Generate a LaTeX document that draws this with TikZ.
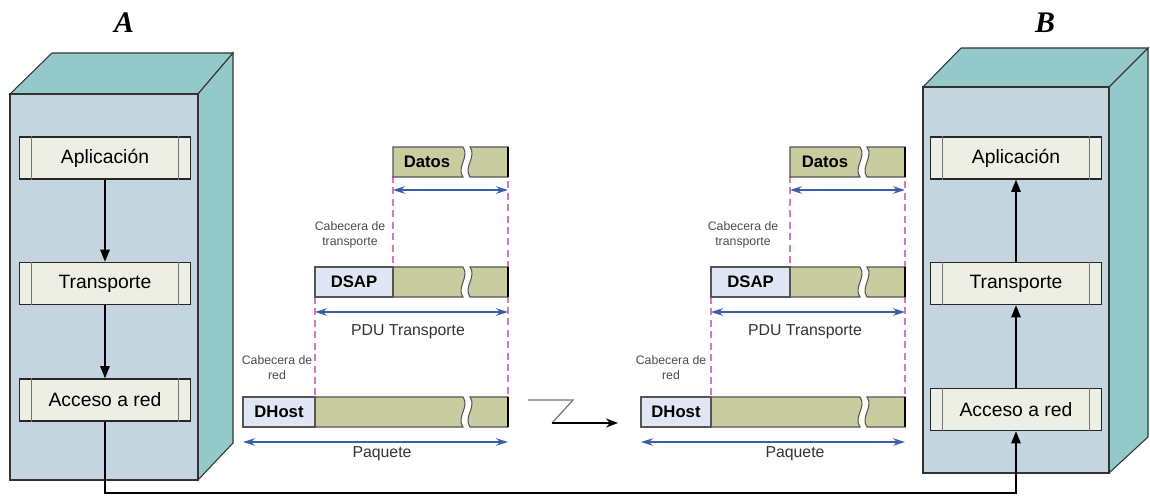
\documentclass[tikz,border=0pt]{standalone}
\usepackage{fontspec}
\setmainfont{Liberation Sans}
\newfontfamily\serifbi{Liberation Serif}
\usetikzlibrary{arrows.meta}
\definecolor{frontc}{RGB}{196,213,224}
\definecolor{sidec}{RGB}{147,201,201}
\definecolor{layerc}{RGB}{237,239,228}
\definecolor{pktgreen}{RGB}{200,204,158}
\definecolor{hdrblue}{RGB}{224,230,243}
\definecolor{pktline}{RGB}{85,85,85}
\definecolor{dimblue}{RGB}{58,95,168}
\definecolor{dashpink}{RGB}{214,120,186}
\newcommand{\pktbody}[4]{%
  \filldraw[fill=pktgreen, draw=pktline, line width=0.6pt] (#1,#4) -- (#2,#4) .. controls (#2+7,#4+10) and (#2-7,#4+20) .. (#2,#4+30) -- (#1,#4+30) -- cycle;
  \filldraw[fill=pktgreen, draw=pktline, line width=0.6pt] (#2+7,#4) -- (#3,#4) -- (#3,#4+30) -- (#2+7,#4+30) .. controls (#2,#4+20) and (#2+14,#4+10) .. (#2+7,#4) -- cycle;
  \draw[line width=1pt] (#3,#4) -- (#3,#4+30);
}

\begin{document}
\begin{tikzpicture}[x=0.2mm, y=-0.2mm,
  capa/.style={draw=black!85, line width=0.9pt, fill=layerc, minimum width=34.2mm, minimum height=8.4mm, font=\fontsize{11}{13}\selectfont},
  hdr/.style={draw=pktline, line width=0.6pt, fill=hdrblue, minimum height=6mm, font=\fontsize{9.5}{11}\selectfont\bfseries},
  flecha/.style={line width=0.6pt, -{Triangle[length=2.4mm, width=1.9mm]}},
  dim/.style={dimblue, line width=0.7pt, {Stealth[length=2.4mm, width=1.5mm]}-{Stealth[length=2.4mm, width=1.5mm]}},
  guia/.style={dashpink, line width=0.6pt, dash pattern=on 4pt off 2.5pt},
  small/.style={text=black!70, align=center, font=\fontsize{7}{8.5}\selectfont},
  lbl/.style={text=black!80, font=\fontsize{9}{11}\selectfont}]
\useasboundingbox (0,0) rectangle (1150,501);

% host A
\filldraw[fill=sidec, draw=black!80, line width=0.6pt] (10,94) -- (52,53) -- (233,53) -- (198,94) -- cycle;
\filldraw[fill=sidec, draw=black!80, line width=0.6pt] (198,94) -- (233,53) -- (233,443) -- (198,480) -- cycle;
\filldraw[fill=frontc, draw=black!80, line width=0.8pt] (10,94) rectangle (198,480);
\node[font=\serifbi\fontsize{17}{20}\selectfont\bfseries\itshape] (labA) at (124,23) {A};

% host B
\filldraw[fill=sidec, draw=black!80, line width=0.6pt] (923,87) -- (961,48) -- (1148,48) -- (1109,87) -- cycle;
\filldraw[fill=sidec, draw=black!80, line width=0.6pt] (1109,87) -- (1148,48) -- (1148,437) -- (1109,473) -- cycle;
\filldraw[fill=frontc, draw=black!80, line width=0.8pt] (923,87) rectangle (1109,473);
\node[font=\serifbi\fontsize{17}{20}\selectfont\bfseries\itshape] (labB) at (1045,23) {B};

% capas
\node[capa] (apA) at (105,158) {Aplicación};
\node[capa] (trA) at (105,283.5) {Transporte};
\node[capa] (acA) at (105,400) {Acceso a red};
\node[capa] (apB) at (1016,158) {Aplicación};
\node[capa] (trB) at (1016,283.5) {Transporte};
\node[capa] (acB) at (1016,409.5) {Acceso a red};
\foreach \n in {apA,trA,acA,apB,trB,acB}
  \draw[black!55, line width=0.8pt] ([xshift=2.6mm]\n.north west) -- ([xshift=2.6mm]\n.south west)
    ([xshift=-2.6mm]\n.north east) -- ([xshift=-2.6mm]\n.south east);

\draw[flecha] (apA) -- (trA);
\draw[flecha] (trA) -- (acA);
\draw[flecha] (acB) -- (trB);
\draw[flecha] (trB) -- (apB);
\coordinate (bajo) at (560,493);
\draw[flecha] (acA.south) |- (bajo) -| (acB.south);

% guias
\draw[guia] (393,176) -- (393,267);
\draw[guia] (315,297) -- (315,397);
\draw[guia] (508,147) -- (508,397);
\draw[guia] (790,176) -- (790,267);
\draw[guia] (711,297) -- (711,397);
\draw[guia] (905,147) -- (905,397);

% paquetes emisor
\pktbody{393}{463}{508}{147}
\node[font=\fontsize{9.5}{11}\selectfont\bfseries] (datL) at (427,162) {Datos};
\draw[dim] (393,190) -- (508,190);
\node[small] (ctL) at (350,235) {Cabecera de\\transporte};
\pktbody{393}{463}{508}{267}
\node[hdr, minimum width=15.6mm] (dsapL) at (354,282) {DSAP};
\draw[dim] (315,312) -- (508,312);
\node[lbl] (pduL) at (408,332) {PDU Transporte};
\node[small] (crL) at (277,368) {Cabecera de\\red};
\pktbody{315}{463}{508}{397}
\node[hdr, minimum width=14.4mm] (dhL) at (279,412) {DHost};
\draw[dim] (243,442) -- (508,442);
\node[lbl] (paqL) at (382,454) {Paquete};

% enlace
\coordinate (z1) at (528,400);
\coordinate (z2) at (573,400);
\coordinate (z3) at (552,423);
\coordinate (z4) at (618,423);
\draw[black!55, line width=0.7pt] (z1) -- (z2) -- (z3);
\draw[line width=0.7pt, -{Stealth[length=2.4mm, width=1.8mm]}] (z3) -- (z4);

% paquetes receptor
\pktbody{790}{860}{905}{147}
\node[font=\fontsize{9.5}{11}\selectfont\bfseries] (datR) at (825,162) {Datos};
\draw[dim] (790,190) -- (905,190);
\node[small] (ctR) at (743,235) {Cabecera de\\transporte};
\pktbody{790}{860}{905}{267}
\node[hdr, minimum width=15.8mm] (dsapR) at (750.5,282) {DSAP};
\draw[dim] (711,312) -- (905,312);
\node[lbl] (pduR) at (805,332) {PDU Transporte};
\node[small] (crR) at (671,368) {Cabecera de\\red};
\pktbody{711}{860}{905}{397}
\node[hdr, minimum width=14mm] (dhR) at (676,412) {DHost};
\draw[dim] (641,442) -- (905,442);
\node[lbl] (paqR) at (795,454) {Paquete};
\end{tikzpicture}
\end{document}
